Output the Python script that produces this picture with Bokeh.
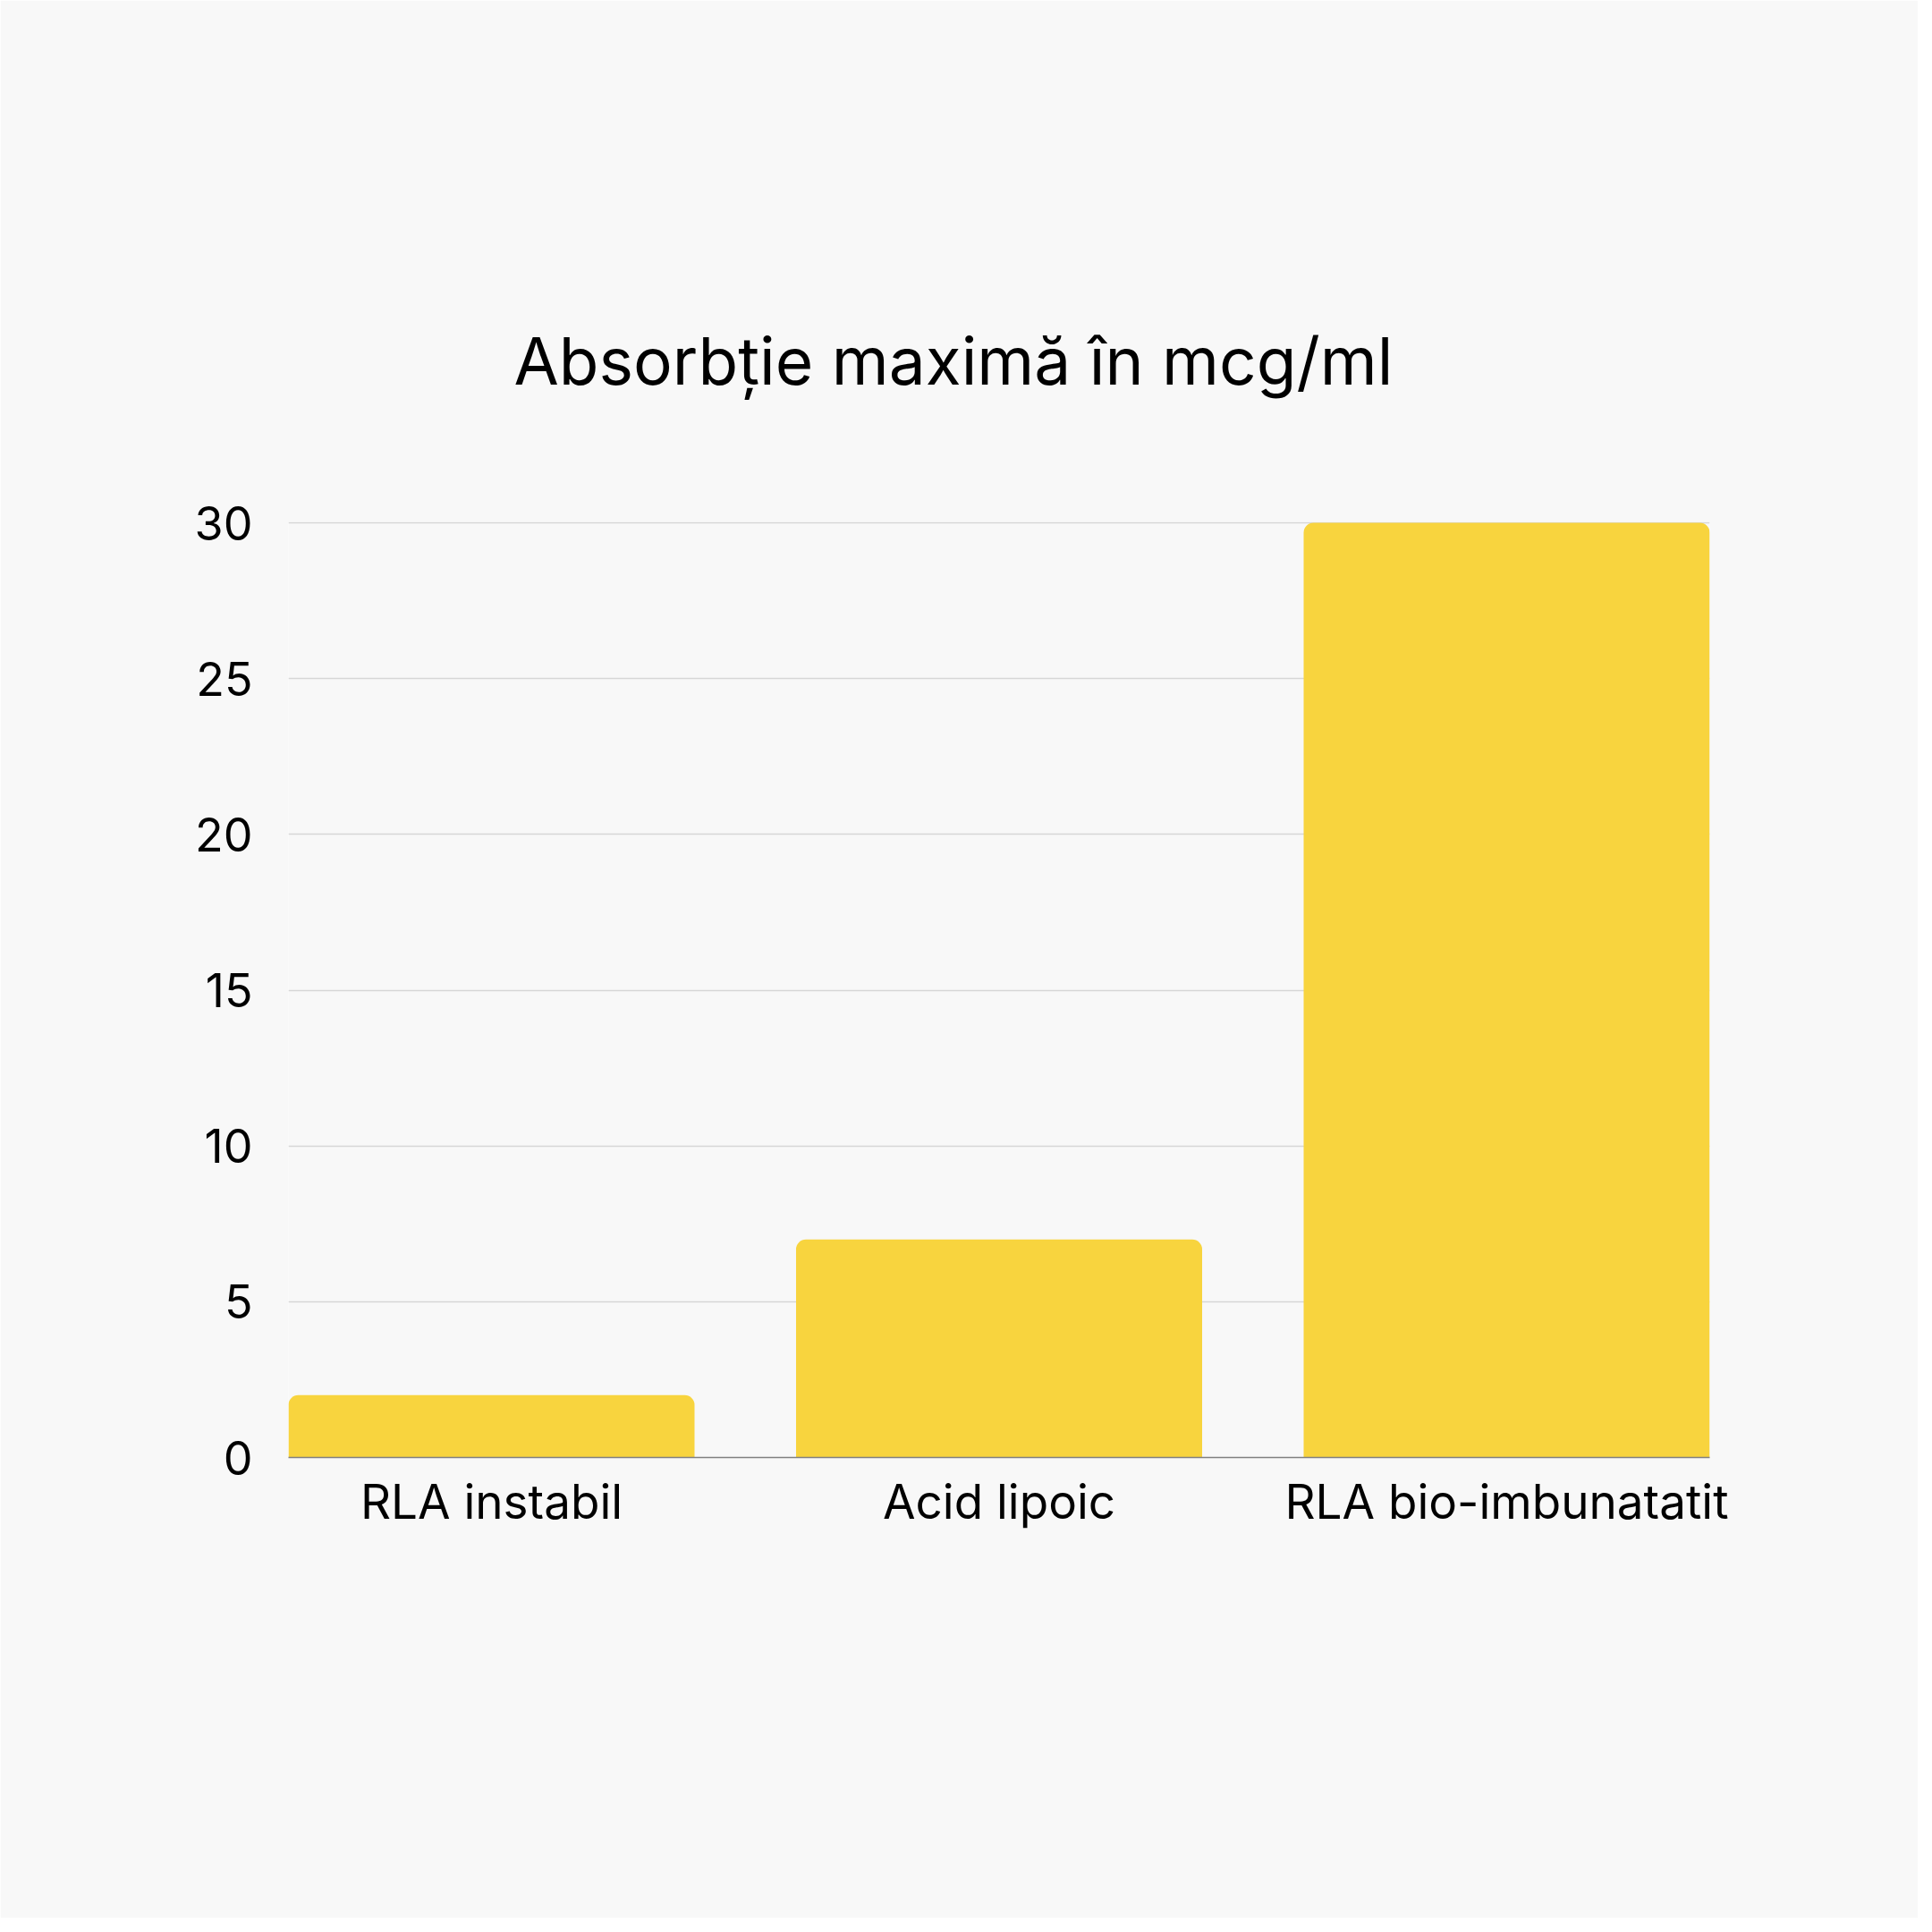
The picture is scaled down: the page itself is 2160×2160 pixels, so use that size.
from bokeh.plotting import figure
from bokeh.models import Range1d, FixedTicker, ColumnDataSource
from bokeh.embed import file_html
from bokeh.resources import INLINE

categories = ["RLA instabil", "Acid lipoic", "RLA bio-imbunatatit"]
values = [2, 7, 30]
y_ticks = [0, 5, 10, 15, 20, 25, 30]
title_text = "Absorbție maximă în mcg/ml"

BG = "#F8F8F8"
BAR = "#F8D43E"
FONT = "Inter"

xs = list(range(len(categories)))
src = ColumnDataSource(dict(x=xs, top=values, cat=categories))

p = figure(width=2144, height=2144, output_backend="svg", toolbar_location=None,
           x_range=Range1d(-0.4, len(categories) - 0.6), y_range=Range1d(0, 30.03),
           background_fill_color=BG, border_fill_color=BG, outline_line_color=None,
           min_border_left=322, min_border_right=233, min_border_top=583, min_border_bottom=515)

p.vbar(x="x", top="top", bottom=0, width=0.8, source=src, fill_color=BAR, line_color=None,
       border_radius=(11, 11, 0, 0))

p.title.text = title_text
p.title.text_font = FONT
p.title.text_font_size = "73px"
p.title.text_font_style = "normal"
p.title.text_color = "#000000"
p.title.align = "left"
p.title.offset = 252
p.title.standoff = 272

p.xgrid.grid_line_color = None
p.ygrid.grid_line_color = "#D6D6D6"
p.ygrid.grid_line_width = 1.5
p.ygrid.ticker = FixedTicker(ticks=y_ticks)

p.yaxis.ticker = FixedTicker(ticks=y_ticks)
p.yaxis.axis_line_color = None
p.yaxis.major_tick_line_color = None
p.yaxis.minor_tick_line_color = None
p.yaxis.major_label_standoff = 34
p.yaxis.major_label_text_font = FONT
p.yaxis.major_label_text_font_size = "52px"
p.yaxis.major_label_text_color = "#000000"

p.xaxis.ticker = FixedTicker(ticks=xs)
p.xaxis.major_label_overrides = {i: c for i, c in zip(xs, categories)}
p.xaxis.axis_line_color = "#808080"
p.xaxis.axis_line_width = 1.5
p.xaxis.major_tick_line_color = None
p.xaxis.minor_tick_line_color = None
p.xaxis.major_label_standoff = 11
p.xaxis.major_label_text_font = FONT
p.xaxis.major_label_text_font_size = "53px"
p.xaxis.major_label_text_color = "#000000"

open("out.html", "w").write(file_html(p, INLINE))
